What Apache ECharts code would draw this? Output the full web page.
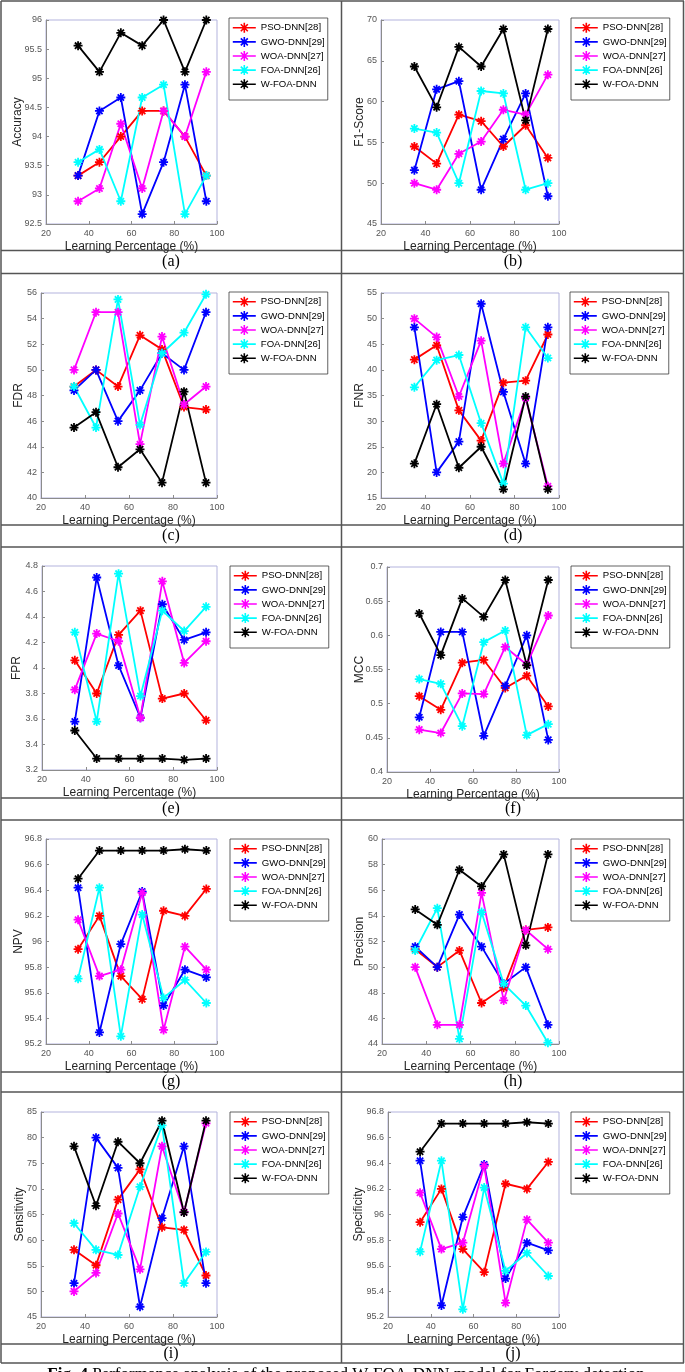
<!DOCTYPE html>
<html>
<head>
<meta charset="utf-8">
<script src="https://cdn.jsdelivr.net/npm/echarts@6/dist/echarts.min.js"></script>
<style>
html, body { margin: 0; padding: 0; background: #fff; }
#main { width: 685px; height: 1372px; }
</style>
</head>
<body>
<div id="main"></div>
<script>
var lp = [35, 45, 55, 65, 75, 85, 95];
var methods = ['PSO-DNN[28]', 'GWO-DNN[29]', 'WOA-DNN[27]', 'FOA-DNN[26]', 'W-FOA-DNN'];
var colors = ['#ff0000', '#0000ff', '#ff00ff', '#00ffff', '#000000'];

// one row per method, same order as methods
var accuracy = [
    [93.33, 93.56, 94.00, 94.44, 94.44, 94.00, 93.33],
    [93.33, 94.44, 94.67, 92.67, 93.56, 94.89, 92.89],
    [92.89, 93.11, 94.22, 93.11, 94.44, 94.00, 95.11],
    [93.56, 93.78, 92.89, 94.67, 94.89, 92.67, 93.33],
    [95.56, 95.11, 95.78, 95.56, 96.00, 95.11, 96.00]
];
var f1score = [
    [54.5, 52.4, 58.4, 57.6, 54.5, 57.1, 53.1],
    [51.6, 61.5, 62.5, 49.2, 55.4, 61.0, 48.4],
    [50.0, 49.2, 53.6, 55.1, 59.0, 58.4, 63.3],
    [56.7, 56.2, 50.0, 61.3, 61.0, 49.2, 50.0],
    [64.3, 59.3, 66.7, 64.3, 68.9, 57.7, 68.9]
];
var fdr = [
    [48.7, 50.0, 48.7, 52.7, 51.6, 47.1, 46.9],
    [48.4, 50.0, 46.0, 48.4, 51.3, 50.0, 54.5],
    [50.0, 54.5, 54.5, 44.2, 52.6, 47.3, 48.7],
    [48.7, 45.5, 55.5, 45.7, 51.3, 52.9, 55.9],
    [45.5, 46.7, 42.4, 43.8, 41.2, 48.3, 41.2]
];
var fnr = [
    [42.0, 44.8, 32.1, 26.2, 37.5, 37.9, 46.9],
    [48.3, 20.0, 26.0, 52.9, 35.7, 21.7, 48.3],
    [50.0, 46.4, 34.8, 45.7, 21.7, 34.5, 17.3],
    [36.6, 41.9, 42.9, 29.6, 17.8, 48.3, 42.3],
    [21.7, 33.3, 20.9, 25.0, 16.7, 34.8, 16.7]
];
var fpr = [
    [4.06, 3.80, 4.26, 4.45, 3.76, 3.80, 3.59],
    [3.58, 4.71, 4.02, 3.61, 4.50, 4.22, 4.28],
    [3.83, 4.27, 4.21, 3.61, 4.68, 4.04, 4.21],
    [4.28, 3.58, 4.74, 3.78, 4.45, 4.29, 4.48],
    [3.51, 3.29, 3.29, 3.29, 3.29, 3.28, 3.29]
];
var mcc = [
    [0.511, 0.491, 0.560, 0.564, 0.523, 0.541, 0.496],
    [0.480, 0.605, 0.605, 0.453, 0.526, 0.600, 0.447],
    [0.462, 0.457, 0.515, 0.514, 0.583, 0.557, 0.629],
    [0.536, 0.529, 0.467, 0.590, 0.607, 0.454, 0.470],
    [0.632, 0.571, 0.654, 0.627, 0.681, 0.556, 0.681]
];
var npv = [
    [95.94, 96.20, 95.73, 95.55, 96.24, 96.20, 96.41],
    [96.42, 95.29, 95.98, 96.39, 95.50, 95.78, 95.72],
    [96.17, 95.73, 95.78, 96.38, 95.31, 95.96, 95.78],
    [95.71, 96.42, 95.26, 96.21, 95.56, 95.70, 95.52],
    [96.49, 96.71, 96.71, 96.71, 96.71, 96.72, 96.71]
];
var precision = [
    [51.4, 50.0, 51.3, 47.2, 48.4, 52.9, 53.1],
    [51.6, 50.0, 54.1, 51.6, 48.7, 50.0, 45.5],
    [50.0, 45.5, 45.5, 55.8, 47.4, 52.9, 51.4],
    [51.3, 54.6, 44.4, 54.3, 48.7, 47.0, 44.1],
    [54.5, 53.3, 57.6, 56.3, 58.8, 51.7, 58.8]
];
var sensitivity = [
    [58.1, 55.1, 67.9, 73.8, 62.5, 62.0, 53.1],
    [51.6, 80.0, 74.1, 47.0, 64.3, 78.3, 51.6],
    [50.0, 53.6, 65.2, 54.3, 78.3, 65.5, 82.8],
    [63.3, 58.1, 57.1, 70.4, 82.4, 51.6, 57.7],
    [78.3, 66.7, 79.2, 75.0, 83.3, 65.4, 83.3]
];
var specificity = [
    [95.94, 96.20, 95.73, 95.55, 96.24, 96.20, 96.41],
    [96.42, 95.29, 95.98, 96.39, 95.50, 95.78, 95.72],
    [96.17, 95.73, 95.78, 96.38, 95.31, 95.96, 95.78],
    [95.71, 96.42, 95.26, 96.21, 95.56, 95.70, 95.52],
    [96.49, 96.71, 96.71, 96.71, 96.71, 96.72, 96.71]
];

var metricNames = ['Accuracy', 'F1-Score', 'FDR', 'FNR', 'FPR', 'MCC', 'NPV', 'Precision', 'Sensitivity', 'Specificity'];
var metricData = [accuracy, f1score, fdr, fnr, fpr, mcc, npv, precision, sensitivity, specificity];
var yMin = [92.5, 45, 40, 15, 3.2, 0.4, 95.2, 44, 45, 95.2];
var yMax = [96, 70, 56, 55, 4.8, 0.7, 96.8, 60, 85, 96.8];
var yStep = [0.5, 5, 2, 5, 0.2, 0.05, 0.2, 2, 5, 0.2];
var panelTags = ['(a)', '(b)', '(c)', '(d)', '(e)', '(f)', '(g)', '(h)', '(i)', '(j)'];

// layout (px): plot boxes, legend corners, y-name gaps
var plotBox = [
    [46, 20, 171, 204], [381, 20, 178, 204],
    [41, 293, 176, 205], [381, 293, 178, 205],
    [42, 566, 175, 204], [387, 567, 172, 205],
    [46, 839, 171, 205], [382, 839, 177, 205],
    [41, 1112, 176, 205], [388, 1112, 171, 205]
];
var legendAt = [
    [229, 18], [571, 18], [229, 292], [570, 292], [230, 566],
    [571, 566], [230, 839], [571, 839], [230, 1112], [571, 1112]
];
var yNameGap = [22, 15, 16, 15, 19, 21, 21, 16, 15, 23];

var starPath = 'path://M5,0L5,10M0,5L10,5M1.5,1.5L8.5,8.5M1.5,8.5L8.5,1.5';
// legend key: short line with the star in its middle
var keyPath = 'path://M0,5L23,5M11.5,0L11.5,10M6.5,5L16.5,5M8,1.5L15,8.5M8,8.5L15,1.5';
var sansFont = 'Liberation Sans, Arial, sans-serif';
var serifFont = 'Liberation Serif, Times New Roman, serif';

var grids = [], xAxes = [], yAxes = [], legends = [], series = [];
var legendItems = methods.map(function (m, k) {
    return {
        name: m, icon: keyPath,
        itemStyle: { color: colors[k], borderColor: colors[k], borderWidth: 1.6 }
    };
});

for (var p = 0; p < 10; p++) {
    var b = plotBox[p];
    grids.push({
        left: b[0], top: b[1], width: b[2], height: b[3],
        show: true, borderColor: '#b3b3dd', borderWidth: 1, backgroundColor: '#fff'
    });
    xAxes.push({
        gridIndex: p, type: 'value', min: 20, max: 100, interval: 20,
        name: 'Learning Percentage (%)', nameLocation: 'middle', nameGap: 17,
        nameMoveOverlap: false,
        nameTextStyle: { fontSize: 12, color: '#262626', fontFamily: sansFont },
        axisLine: { show: true, lineStyle: { color: '#8c8c8c', width: 1 } },
        axisTick: { show: true, inside: true, length: 3, lineStyle: { color: '#8c8c8c' } },
        axisLabel: { fontSize: 9, color: '#555', margin: 5, fontFamily: sansFont },
        splitLine: { show: false }
    });
    yAxes.push({
        gridIndex: p, type: 'value', min: yMin[p], max: yMax[p], interval: yStep[p],
        name: metricNames[p], nameLocation: 'middle', nameGap: yNameGap[p],
        nameMoveOverlap: false,
        nameTextStyle: { fontSize: 12, color: '#262626', fontFamily: sansFont },
        axisLine: { show: true, lineStyle: { color: '#8c8c8c', width: 1 } },
        axisTick: { show: true, inside: true, length: 3, lineStyle: { color: '#8c8c8c' } },
        axisLabel: { fontSize: 9, color: '#555', margin: 4, fontFamily: sansFont },
        splitLine: { show: false }
    });
    legends.push({
        left: legendAt[p][0], top: legendAt[p][1], orient: 'vertical',
        data: legendItems, selectedMode: false,
        itemWidth: 23, itemHeight: 10, itemGap: 2.5,
        padding: [4, 3, 10, 3],
        borderColor: '#3a3a3a', borderWidth: 0.8, backgroundColor: '#fff',
        textStyle: { fontSize: 9.6, color: '#000', fontFamily: sansFont, lineHeight: 11 }
    });
    for (var s = 0; s < 5; s++) {
        var vals = metricData[p][s];
        var pts = [];
        for (var i = 0; i < lp.length; i++) pts.push([lp[i], vals[i]]);
        series.push({
            name: methods[s], type: 'line', xAxisIndex: p, yAxisIndex: p,
            data: pts, symbol: starPath, symbolSize: 9,
            lineStyle: { color: colors[s], width: 1.8 },
            itemStyle: { color: colors[s], borderColor: colors[s], borderWidth: 1.8 },
            emphasis: { disabled: true }
        });
    }
}

// table frame around the panels
var hLines = [1, 250.5, 273.5, 525, 547, 798, 820, 1072, 1092, 1344, 1363];
var tagY = [262, 536, 809, 1082, 1354];
var graphics = [];
hLines.forEach(function (y) {
    graphics.push({ type: 'line', shape: { x1: 1, y1: y, x2: 684, y2: y }, style: { stroke: '#555', lineWidth: 1.5 } });
});
[1, 341.5, 683.5].forEach(function (x) {
    graphics.push({ type: 'line', shape: { x1: x, y1: 1, x2: x, y2: 1363 }, style: { stroke: '#555', lineWidth: 1.5 } });
});
for (var t = 0; t < 10; t++) {
    graphics.push({
        type: 'text', x: (t % 2 === 0 ? 171 : 513), y: tagY[Math.floor(t / 2)],
        style: { text: panelTags[t], fontSize: 16, fontFamily: serifFont, fill: '#000', align: 'center', verticalAlign: 'middle' }
    });
}
graphics.push({
    type: 'text', x: 346, y: 1366,
    style: {
        text: '{b|Fig. 4} Performance analysis of the proposed W-FOA-DNN model for Forgery detection',
        rich: { b: { fontWeight: 'bold', fontSize: 17, fontFamily: serifFont } },
        fontSize: 17, fontFamily: serifFont, fill: '#000', align: 'center', verticalAlign: 'top'
    }
});

var myChart = echarts.init(document.getElementById('main'));
var option = {
    animation: false,
    backgroundColor: '#fff',
    grid: grids,
    xAxis: xAxes,
    yAxis: yAxes,
    legend: legends,
    series: series,
    graphic: graphics
};
myChart.setOption(option);
</script>
</body>
</html>
